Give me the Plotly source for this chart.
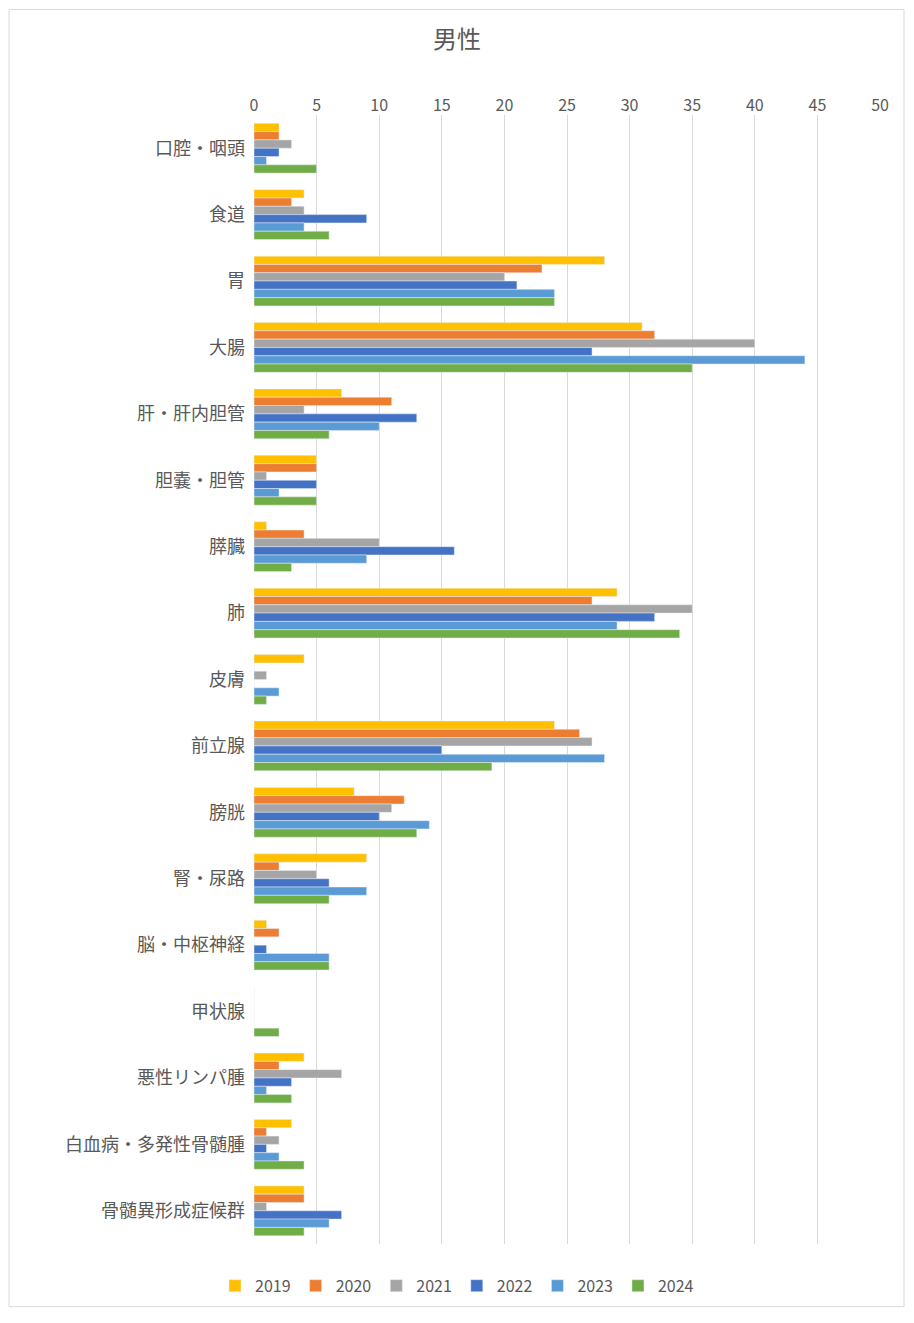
import plotly.graph_objects as go

categories = ["口腔・咽頭","食道","胃","大腸","肝・肝内胆管","胆嚢・胆管","膵臓","肺","皮膚","前立腺","膀胱","腎・尿路","脳・中枢神経","甲状腺","悪性リンパ腫","白血病・多発性骨髄腫","骨髄異形成症候群"]
years = ["2019","2020","2021","2022","2023","2024"]
v2019 = [2,4,28,31,7,5,1,29,4,24,8,9,1,0,4,3,4]
v2020 = [2,3,23,32,11,5,4,27,0,26,12,2,2,0,2,1,4]
v2021 = [3,4,20,40,4,1,10,35,1,27,11,5,0,0,7,2,1]
v2022 = [2,9,21,27,13,5,16,32,0,15,10,6,1,0,3,1,7]
v2023 = [1,4,24,44,10,2,9,29,2,28,14,9,6,0,1,2,6]
v2024 = [5,6,24,35,6,5,3,34,1,19,13,6,6,2,3,4,4]
series = [v2019,v2020,v2021,v2022,v2023,v2024]
colors = ["#FFC000","#ED7D31","#A5A5A5","#4472C4","#5B9BD5","#70AD47"]

fig = go.Figure()
for y, v, c in zip(years, series, colors):
    fig.add_trace(go.Bar(y=categories, x=v, name=y, orientation="h", marker_color=c))

OFF = 8
W, H = 914 - 2 * OFF, 1323 - 2 * OFF
L, R, T, B = 254 - OFF, 34 - OFF, 115 - OFF, 73 - OFF
pw, ph = W - L - R, H - T - B
fig.update_layout(
    width=W, height=H, barmode="group", bargap=0.25, bargroupgap=0,
    margin=dict(l=L, r=R, t=T, b=B),
    plot_bgcolor="white", paper_bgcolor="white",
    font=dict(family="Noto Sans CJK JP", size=17, color="#595959"),
    title=dict(text="男性", x=(457 - OFF - L) / pw, xref="paper", xanchor="center",
               y=1 - (40 - OFF) / H, yanchor="middle",
               font=dict(size=24, color="#595959")),
    xaxis=dict(side="top", range=[0, 50], dtick=5, showgrid=True, gridcolor="#D9D9D9",
               zeroline=False, tickfont=dict(size=16), ticks=""),
    yaxis=dict(autorange="reversed", tickfont=dict(size=18), ticks="", showline=False,
               ticksuffix="  "),
    legend=dict(orientation="h", x=(457 - OFF - L) / pw, xanchor="center",
                y=-(1292 - 1250) / ph, yanchor="middle", font=dict(size=16)),
    shapes=[dict(type="rect", xref="paper", yref="paper",
                 x0=-(L - 1) / pw, x1=1 + (R - 2) / pw, y0=-(B - 2) / ph, y1=1 + (T - 1) / ph,
                 line=dict(color="#D9D9D9", width=1))],
)
fig.write_html("out.html")
